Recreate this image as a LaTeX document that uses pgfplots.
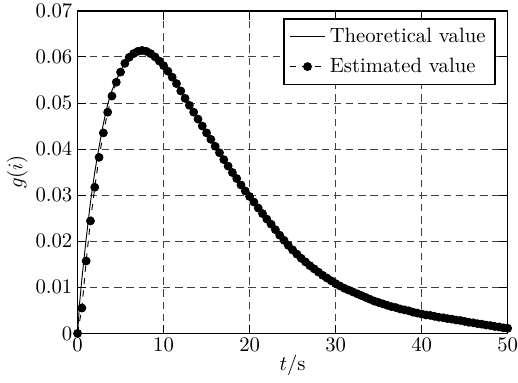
\documentclass[border=0pt]{standalone}
\usepackage{pgfplots}
\pgfplotsset{compat=1.18}
\usepackage{pgfplotstable}
\pgfplotstableread{
t y
0.0 0.0
0.5 0.0055
1.0 0.0157
1.5 0.0244
2.0 0.0317
2.5 0.0382
3.0 0.0435
3.5 0.0480
4.0 0.0515
4.5 0.0545
5.0 0.0567
5.5 0.0586
6.0 0.0599
6.5 0.0607
7.0 0.0612
7.5 0.0614
8.0 0.0612
8.5 0.0607
9.0 0.0600
9.5 0.0591
10.0 0.0581
10.5 0.0569
11.0 0.0556
11.5 0.0542
12.0 0.0526
12.5 0.0510
13.0 0.0495
13.5 0.0480
14.0 0.0465
14.5 0.0450
15.0 0.0435
15.5 0.0421
16.0 0.0406
16.5 0.0392
17.0 0.0377
17.5 0.0363
18.0 0.0349
18.5 0.0336
19.0 0.0322
19.5 0.0309
20.0 0.0297
20.5 0.0285
21.0 0.0272
21.5 0.0260
22.0 0.0248
22.5 0.0237
23.0 0.0225
23.5 0.0213
24.0 0.0202
24.5 0.0191
25.0 0.0181
25.5 0.0172
26.0 0.0163
26.5 0.0155
27.0 0.0147
27.5 0.0140
28.0 0.0133
28.5 0.0126
29.0 0.0120
29.5 0.0114
30.0 0.0108
30.5 0.0103
31.0 0.0098
31.5 0.0094
32.0 0.0090
32.5 0.0086
33.0 0.0082
33.5 0.0078
34.0 0.0074
34.5 0.0070
35.0 0.0067
35.5 0.0064
36.0 0.0061
36.5 0.0058
37.0 0.0056
37.5 0.0053
38.0 0.0051
38.5 0.0049
39.0 0.0046
39.5 0.0044
40.0 0.0042
40.5 0.0040
41.0 0.0039
41.5 0.0037
42.0 0.0035
42.5 0.0034
43.0 0.0032
43.5 0.0031
44.0 0.0029
44.5 0.0028
45.0 0.0026
45.5 0.0024
46.0 0.0023
46.5 0.0021
47.0 0.0020
47.5 0.0018
48.0 0.0017
48.5 0.0015
49.0 0.0014
49.5 0.0012
50.0 0.0011
}\estimated
\pgfplotstableread{
t y
0.0 0.0
0.25 0.0068
0.5 0.0118
1.0 0.0205
1.5 0.0285
2.0 0.0350
2.5 0.0405
3.0 0.0455
3.5 0.0497
4.0 0.0527
4.5 0.0550
5.0 0.0569
5.5 0.0586
6.0 0.0599
6.5 0.0607
7.0 0.0612
7.5 0.0614
8.0 0.0612
8.5 0.0607
9.0 0.0600
9.5 0.0591
10.0 0.0581
11.0 0.0556
12.0 0.0526
13.0 0.0495
14.0 0.0465
15.0 0.0435
16.0 0.0406
17.0 0.0377
18.0 0.0349
19.0 0.0322
20.0 0.0297
21.0 0.0272
22.0 0.0248
23.0 0.0225
24.0 0.0202
25.0 0.0181
26.0 0.0163
27.0 0.0147
28.0 0.0133
29.0 0.0120
30.0 0.0108
31.0 0.0098
32.0 0.0090
33.0 0.0082
34.0 0.0074
35.0 0.0067
36.0 0.0061
37.0 0.0056
38.0 0.0051
39.0 0.0046
40.0 0.0042
41.0 0.0039
42.0 0.0035
43.0 0.0032
44.0 0.0029
45.0 0.0026
46.0 0.0023
47.0 0.0020
48.0 0.0017
49.0 0.0014
50.0 0.0011
}\theoretical
\begin{document}
\begin{tikzpicture}
\begin{axis}[
  scale only axis,
  width=208pt, height=156pt,
  xmin=0, xmax=50, ymin=0, ymax=0.07,
  xtick={0,10,20,30,40,50},
  ytick={0,0.01,0.02,0.03,0.04,0.05,0.06,0.07},
  scaled y ticks=false,
  yticklabel style={/pgf/number format/fixed, /pgf/number format/precision=2, inner ysep=2pt, xshift=1pt},
  xticklabel style={yshift=1pt, inner xsep=0pt},
  axis line style={line width=0.8pt},
  tick style={black, thin},
  grid=major,
  major grid style={black!75, dash pattern=on 3.6pt off 2.3pt, line width=0.4pt},
  xlabel={$t$/s},
  ylabel={$g(i)$},
  xlabel style={yshift=5.5pt},
  ylabel style={yshift=-3pt},
  legend style={at={(0.972,0.978)}, anchor=north east, draw=black, line width=0.8pt,
    row sep=2pt, inner sep=2.5pt, font=\normalsize},
  legend cell align=left,
]
\addplot[black, line width=0.45pt, no marks] table[x=t, y=y] {\theoretical};
\addlegendentry{Theoretical value}
\addplot[black, line width=0.45pt, dashed, mark=*, mark size=1.9pt, mark options={solid}] table[x=t, y=y] {\estimated};
\addlegendentry{Estimated value}
\end{axis}
\end{tikzpicture}
\end{document}
